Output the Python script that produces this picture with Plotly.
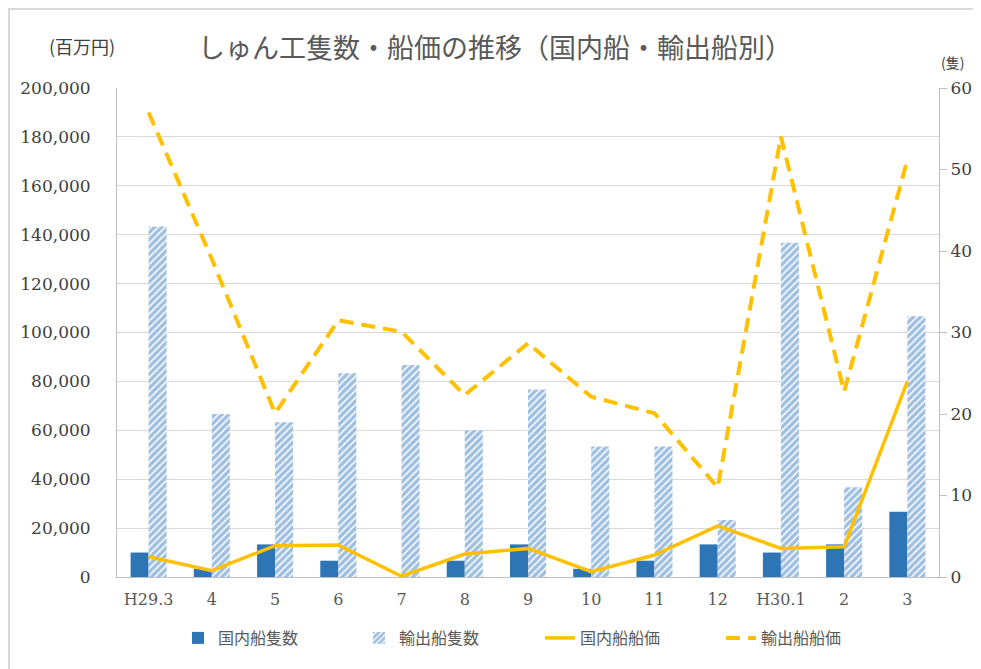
import plotly.graph_objects as go

categories = ["H29.3", "4", "5", "6", "7", "8", "9", "10", "11", "12", "H30.1", "2", "3"]
domestic_count = [3, 1, 4, 2, 0, 2, 4, 1, 2, 4, 3, 4, 8]
export_count = [43, 20, 19, 25, 26, 18, 23, 16, 16, 7, 41, 11, 32]
domestic_price = [8300, 2600, 12800, 13100, 300, 9400, 11700, 2200, 9000, 20900, 11700, 12400, 80000]
export_price = [190000, 130000, 67000, 105000, 100300, 74400, 95600, 73700, 67000, 36600, 180100, 75800, 170600]

left_ticks = list(range(0, 200001, 20000))
right_ticks = list(range(0, 61, 10))

# page body has an 8px margin; positions below are in screen pixels
OFF = 8
W, H = 981, 669
PL, PR, PT, PB = 117, 939, 88, 577  # plot area in screen pixels
L, T = PL - OFF, PT - OFF
R, B = W - (PR - OFF), H - (PB - OFF)
pw, ph = PR - PL, PB - PT

def px(x):
    return (x - PL) / pw

def py(y):
    return (PB - y) / ph

jp = "Noto Sans CJK JP"
num = "DejaVu Serif"

fig = go.Figure()
fig.add_trace(go.Bar(
    x=categories, y=domestic_count, name="国内船隻数",
    marker=dict(color="#2E75B6", line=dict(width=0)),
    yaxis="y",
))
fig.add_trace(go.Bar(
    x=categories, y=export_count, name="輸出船隻数",
    marker=dict(color="white", line=dict(width=0),
                pattern=dict(shape="/", fgcolor="#3F7FC4", bgcolor="white", size=5, solidity=0.7)),
    yaxis="y",
))
fig.add_trace(go.Scatter(
    x=categories, y=domestic_price, name="国内船船価", mode="lines",
    line=dict(color="#FFC000", width=3.5),
    yaxis="y2",
))
fig.add_trace(go.Scatter(
    x=categories, y=export_price, name="輸出船船価", mode="lines",
    line=dict(color="#FFC000", width=4, dash="14px,8px"),
    yaxis="y2",
))

fig.update_layout(
    width=W, height=H,
    margin=dict(l=L, r=R, t=T, b=B, pad=0, autoexpand=False),
    paper_bgcolor="white", plot_bgcolor="white",
    barmode="group", bargap=0.43, bargroupgap=0,
    showlegend=True,
    legend=dict(orientation="h", x=px(178), xanchor="left", y=py(638), yanchor="middle",
                font=dict(family=jp, size=16, color="#595959"),
                entrywidth=136, entrywidthmode="pixels", bgcolor="rgba(0,0,0,0)"),
    xaxis=dict(
        type="category", showgrid=False, showline=True, linecolor="#BFBFBF", linewidth=1,
        ticks="", tickfont=dict(family=num, size=16, color="#595959"),
        ticklabelstandoff=8, automargin=False,
    ),
    yaxis=dict(
        side="right", range=[0, 60], tickvals=right_ticks, showgrid=False,
        showline=True, linecolor="#BFBFBF", linewidth=1,
        ticks="outside", ticklen=7, tickcolor="#BFBFBF",
        tickfont=dict(family=num, size=17, color="#404040"),
        zeroline=False, automargin=False,
    ),
    yaxis2=dict(
        overlaying="y", side="left", range=[0, 200000], tickvals=left_ticks,
        tickformat=",", showgrid=True, gridcolor="#D9D9D9", gridwidth=1,
        showline=True, linecolor="#BFBFBF", linewidth=1, ticks="",
        tickfont=dict(family=num, size=17, color="#404040"),
        ticklabelstandoff=22, zeroline=False, automargin=False,
    ),
    shapes=[dict(type="rect", xref="paper", yref="paper",
                 x0=px(9), x1=px(1000), y0=py(700), y1=py(9),
                 line=dict(color="#D9D9D9", width=2), fillcolor="rgba(0,0,0,0)", layer="below")],
    annotations=[
        dict(text="しゅん工隻数・船価の推移（国内船・輸出船別）", xref="paper", yref="paper",
             x=px(495), y=py(46), xanchor="center", yanchor="middle", showarrow=False,
             font=dict(family=jp, size=27, color="#595959")),
        dict(text="(百万円)", xref="paper", yref="paper",
             x=px(82), y=py(46), xanchor="center", yanchor="middle", showarrow=False,
             font=dict(family=jp, size=18, color="#404040")),
        dict(text="(隻)", xref="paper", yref="paper",
             x=px(952), y=py(62), xanchor="center", yanchor="middle", showarrow=False,
             font=dict(family=jp, size=14, color="#404040")),
    ],
)

fig.write_html("out.html")
